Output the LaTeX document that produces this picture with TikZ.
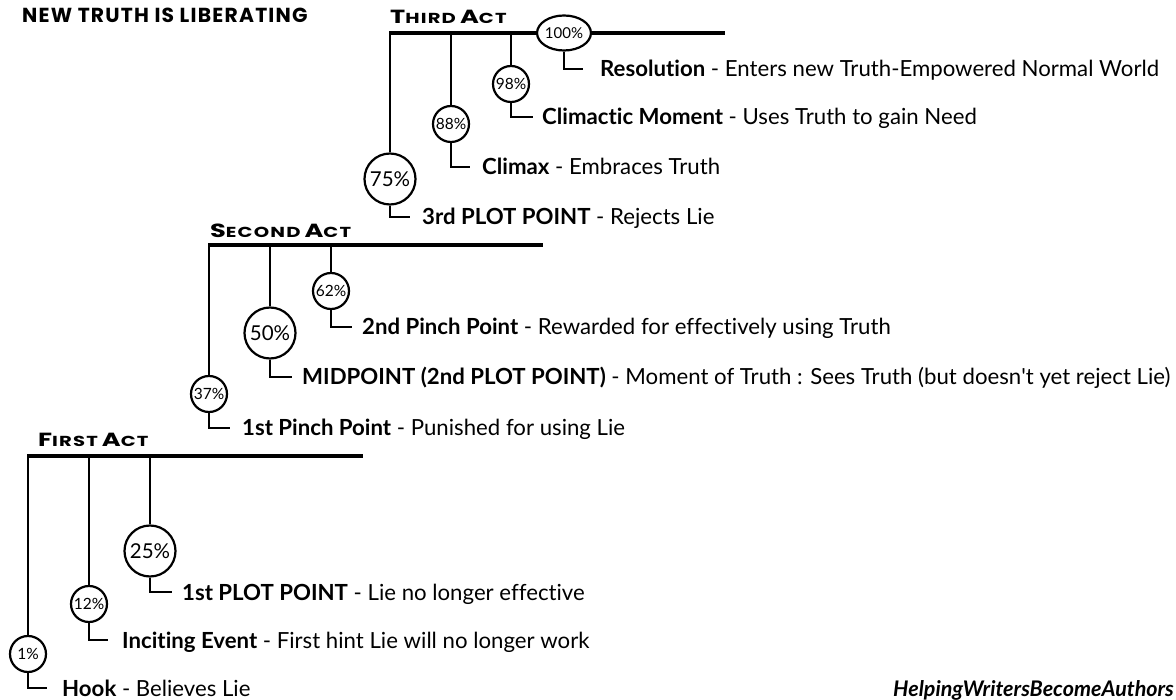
\documentclass[tikz,border=0pt]{standalone}
\usepackage{fontspec}
\setmainfont{Lato}[Ligatures={TeX,NoCommon}]
\newfontfamily\headfont{Poppins}[LetterSpace=6]
\usetikzlibrary{shapes.geometric}
% small caps built by hand: large initial, smaller remaining capitals, widened
\newcommand\actname[2]{{\fontsize{19}{20}\selectfont #1}{\fontsize{14.5}{16}\selectfont #2}}
\newcommand\acthead[4]{\scalebox{1.35}[1]{\headfont\bfseries\actname{#1}{#2}\hspace{0.3em}\actname{#3}{#4}}}

\begin{document}
\begin{tikzpicture}[x=1pt, y=-1pt,
  actline/.style={line width=3.4pt},
  drop/.style={line width=1.9pt},
  pct/.style={circle, draw, line width=2.2pt, inner sep=0pt, minimum size=36pt,
    font=\fontsize{15.5}{16}\selectfont},
  bigpct/.style={pct, minimum size=51pt, font=\fontsize{20.5}{22}\selectfont},
  lbl/.style={anchor=base west, inner sep=0pt, font=\fontsize{22.2}{26}\selectfont},
  head/.style={anchor=base west, inner sep=0pt}]
\useasboundingbox (0,0) rectangle (1176,700);
\clip (0,0) rectangle (1176,700);

% title
\node[head, font=\headfont\bfseries\fontsize{20.3}{22}\selectfont] (title) at (22,23) {NEW TRUTH IS LIBERATING};

% ---------------- third act ----------------
\node[head] (h3) at (390,24) {\acthead{T}{HIRD}{A}{CT}};
\coordinate (t0) at (389,33);
\coordinate (t1) at (725,33);
\coordinate (ta) at (390,33);
\coordinate (tb) at (451,33);
\coordinate (tc) at (511,33);
\node[ellipse, draw, line width=2.2pt, inner sep=0pt, minimum width=44pt, minimum height=35pt,
  font=\fontsize{15}{16}\selectfont] (p100) at (564,33) {100\%};
\draw[actline] (t0) -- (p100.west);
\draw[actline] (p100.east) -- (t1);

\node[bigpct] (p75) at (390,179) {75\%};
\node[pct] (p88) at (451,124) {88\%};
\node[pct] (p98) at (511,84) {98\%};
\draw[drop] (ta) -- (p75.north);
\draw[drop] (tb) -- (p88.north);
\draw[drop] (tc) -- (p98.north);

\coordinate (s75) at (410,217);
\coordinate (s88) at (470,167);
\coordinate (s98) at (533,117);
\coordinate (s100) at (583,69);
\draw[drop] (p75.south) |- (s75);
\draw[drop] (p88.south) |- (s88);
\draw[drop] (p98.south) |- (s98);
\draw[drop] (p100.south) |- (s100);

\node[lbl] (l75) at (422,225) {\textbf{3rd PLOT POINT} - Rejects Lie};
\node[lbl] (l88) at (482,175) {\textbf{Climax} - Embraces Truth};
\node[lbl] (l98) at (542,125) {\textbf{Climactic Moment} - Uses Truth to gain Need};
\node[lbl] (l100) at (600,77) {\textbf{Resolution} - Enters new Truth-Empowered Normal World};

% ---------------- second act ----------------
\node[head] (h2) at (210,238) {\acthead{S}{ECOND}{A}{CT}};
\coordinate (u0) at (208,245);
\coordinate (u1) at (543,245);
\draw[actline] (u0) -- (u1);
\coordinate (ua) at (209,245);
\coordinate (ub) at (270,245);
\coordinate (uc) at (331,245);

\node[pct] (p37) at (209,394) {37\%};
\node[bigpct] (p50) at (270,333) {50\%};
\node[pct] (p62) at (331,291) {62\%};
\draw[drop] (ua) -- (p37.north);
\draw[drop] (ub) -- (p50.north);
\draw[drop] (uc) -- (p62.north);

\coordinate (s37) at (230,428);
\coordinate (s50) at (292,377);
\coordinate (s62) at (352,327);
\draw[drop] (p37.south) |- (s37);
\draw[drop] (p50.south) |- (s50);
\draw[drop] (p62.south) |- (s62);

\node[lbl] (l37) at (242,436) {\textbf{1st Pinch Point} - Punished for using Lie};
\node[lbl] (l50) at (302,385) {\textbf{MIDPOINT (2nd PLOT POINT)} - Moment of Truth : Sees Truth (but doesn\textquotesingle t yet reject Lie)};
\node[lbl] (l62) at (362,335) {\textbf{2nd Pinch Point} - Rewarded for effectively using Truth};

% ---------------- first act ----------------
\node[head] (h1) at (38,447) {\acthead{F}{IRST}{A}{CT}};
\coordinate (v0) at (27,456);
\coordinate (v1) at (363,456);
\draw[actline] (v0) -- (v1);
\coordinate (va) at (28,456);
\coordinate (vb) at (89,456);
\coordinate (vc) at (150,456);

\node[pct] (p1) at (28,654) {1\%};
\node[pct] (p12) at (89,604) {12\%};
\node[bigpct] (p25) at (150,551) {25\%};
\draw[drop] (va) -- (p1.north);
\draw[drop] (vb) -- (p12.north);
\draw[drop] (vc) -- (p25.north);

\coordinate (s1) at (47,688);
\coordinate (s12) at (108,640);
\coordinate (s25) at (172,592);
\draw[drop] (p1.south) |- (s1);
\draw[drop] (p12.south) |- (s12);
\draw[drop] (p25.south) |- (s25);

\node[lbl] (l1) at (62,696) {\textbf{Hook} - Believes Lie};
\node[lbl] (l12) at (122,648) {\textbf{Inciting Event} - First hint Lie will no longer work};
\node[lbl] (l25) at (182,600) {\textbf{1st PLOT POINT} - Lie no longer effective};

% credit line
\node[anchor=base east, inner sep=0pt, font=\bfseries\itshape\fontsize{21.5}{24}\selectfont] (credit) at (1174,696) {HelpingWritersBecomeAuthors};
\end{tikzpicture}
\end{document}
